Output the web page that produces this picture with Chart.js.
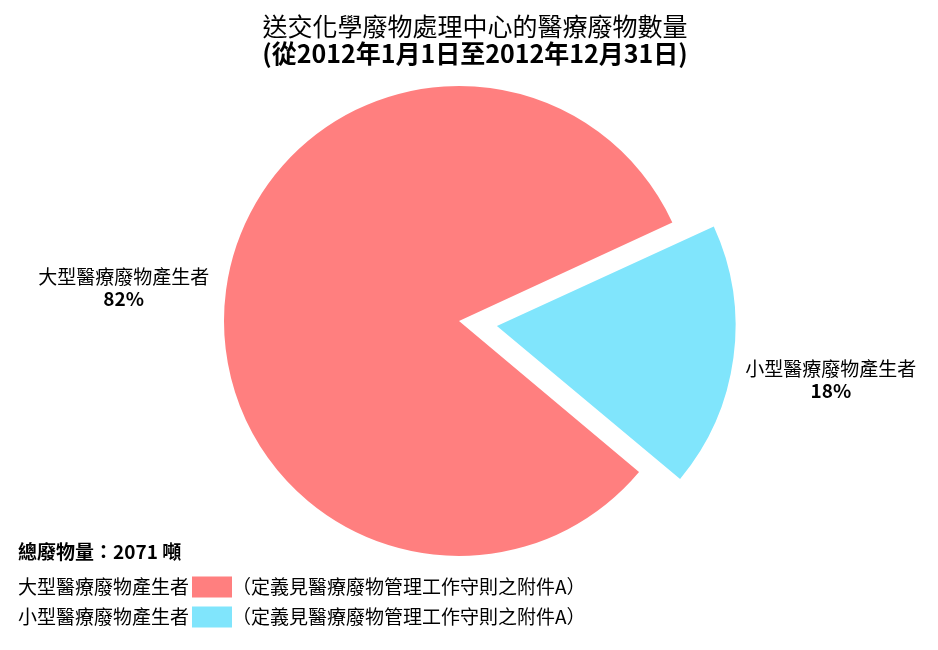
<!DOCTYPE html>
<html lang="zh-Hant">
<head>
<meta charset="utf-8">
<script src="https://cdn.jsdelivr.net/npm/chart.js@4.4.1/dist/chart.umd.min.js"></script>
<style>
  html, body { margin: 0; padding: 0; background: #fff; overflow: hidden; }
  #wrap { position: relative; width: 950px; height: 650px; }
</style>
</head>
<body>
<div id="wrap"><canvas id="wasteChart" width="950" height="650"></canvas></div>
<script>
// Datos del gráfico
const TITLE = "送交化學廢物處理中心的醫療廢物數量";
const SUBTITLE = "(從2012年1月1日至2012年12月31日)";
const categories = ["大型醫療廢物產生者", "小型醫療廢物產生者"];
const shares = [82, 18]; // %
const colors = ["#ff7f7f", "#80e5fc"];
const TOTAL_TEXT = "總廢物量：2071 噸";
const NOTE = "（定義見醫療廢物管理工作守則之附件A）";

const FONT = "'Noto Sans CJK TC', 'Noto Sans', sans-serif";

// Título de dos líneas (centrado en el lienzo, no en el área del gráfico)
const titleBlock = {
  id: "titleBlock",
  afterDraw(chart) {
    const ctx = chart.ctx;
    const cx = chart.width / 2;
    ctx.save();
    ctx.fillStyle = "#000";
    ctx.textAlign = "center";
    ctx.textBaseline = "middle";
    ctx.font = "25px " + FONT;
    ctx.fillText(TITLE, cx, 26);
    ctx.font = "bold 25px " + FONT;
    ctx.fillText(SUBTITLE, cx, 53);
    ctx.restore();
  }
};

// Etiquetas fuera de cada porción
const sliceLabels = {
  id: "sliceLabels",
  afterDatasetsDraw(chart, args, opts) {
    const ctx = chart.ctx;
    const arcs = chart.getDatasetMeta(0).data;
    const values = chart.data.datasets[0].data;
    ctx.save();
    ctx.fillStyle = "#000";
    ctx.textAlign = "center";
    ctx.textBaseline = "middle";
    arcs.forEach((arc, i) => {
      const mid = (arc.startAngle + arc.endAngle) / 2;
      const cos = Math.cos(mid), sin = Math.sin(mid);
      // mismo desplazamiento que usa ArcElement al dibujar con offset
      const off = (arc.options.offset || 0) / 4;
      const shift = off * (2 - Math.sin(Math.min(Math.PI, arc.circumference)));
      const r = arc.outerRadius + opts.gap[i] + shift;
      const ax = arc.x + cos * r;
      const ay = arc.y + sin * r + opts.nudgeY[i];

      ctx.font = "19px " + FONT;
      const w = ctx.measureText(chart.data.labels[i]).width;
      const cx = cos < 0 ? ax - w / 2 : ax + w / 2;
      ctx.fillText(chart.data.labels[i], cx, ay - opts.lineGap / 2);
      ctx.font = "bold 19px " + FONT;
      ctx.fillText(values[i] + "%", cx, ay + opts.lineGap / 2);
    });
    ctx.restore();
  }
};

// Leyenda personalizada abajo a la izquierda
const bottomLegend = {
  id: "bottomLegend",
  afterDraw(chart) {
    const ctx = chart.ctx;
    const bg = chart.data.datasets[0].backgroundColor;
    const x0 = 18;
    const y0 = 552;
    ctx.save();
    ctx.fillStyle = "#000";
    ctx.textBaseline = "middle";
    ctx.textAlign = "left";
    ctx.font = "bold 19px " + FONT;
    ctx.fillText(TOTAL_TEXT, x0, y0);
    chart.data.labels.forEach((label, i) => {
      const y = y0 + 35 + i * 30;
      ctx.font = "19px " + FONT;
      ctx.fillStyle = "#000";
      ctx.fillText(label, x0, y);
      const bx = x0 + ctx.measureText(label).width + 3;
      ctx.fillStyle = bg[i];
      ctx.fillRect(bx, y - 10.5, 40, 21);
      ctx.fillStyle = "#000";
      ctx.fillText(NOTE, bx + 40, y);
    });
    ctx.restore();
  }
};

new Chart(document.getElementById("wasteChart"), {
  type: "pie",
  data: {
    labels: categories,
    datasets: [{
      data: shares,
      backgroundColor: colors,
      borderWidth: 0,
      offset: [0, 153]
    }]
  },
  options: {
    responsive: false,
    animation: false,
    events: [],
    rotation: 130,
    radius: 235,
    layout: { padding: { left: 0, right: 32, top: 72, bottom: 80 } },
    plugins: {
      legend: { display: false },
      tooltip: { enabled: false },
      title: { display: false },
      sliceLabels: { gap: [17, 12], lineGap: 22, nudgeY: [0, 21] }
    }
  },
  plugins: [sliceLabels, bottomLegend, titleBlock]
});
</script>
</body>
</html>
